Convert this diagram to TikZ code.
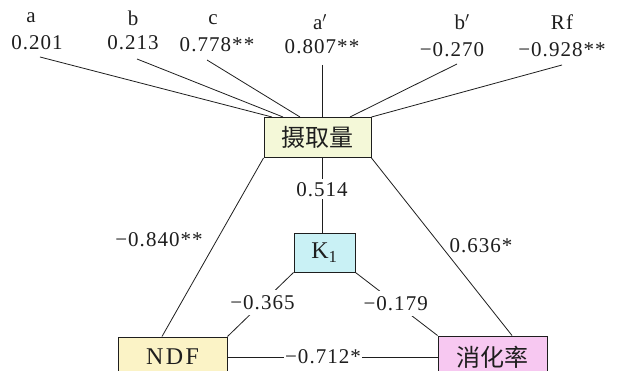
\documentclass[tikz,border=0pt]{standalone}
\usepackage{fontspec}
\setmainfont{Liberation Serif}[LetterSpace=5]
\newfontfamily\cjk{Noto Sans CJK SC}
\usetikzlibrary{calc}
\definecolor{intakec}{HTML}{F4F8D8}
\definecolor{kc}{HTML}{C9F1F5}
\definecolor{ndfc}{HTML}{FBF3C6}
\definecolor{digc}{HTML}{F7C8F1}
\definecolor{ink}{HTML}{1E1E1E}
\begin{document}
\begin{tikzpicture}[x=1pt,y=-1pt,
  box/.style={draw=ink, line width=1pt, inner sep=0pt, text=ink},
  conn/.style={draw=ink, line width=0.8pt},
  lbl/.style={text=ink, font=\fontsize{21}{21}\selectfont, inner sep=1pt},
  onl/.style={lbl, fill=white, inner sep=3pt},
  cjkt/.style={font=\cjk\fontsize{24}{24}\selectfont}]
\useasboundingbox (0,0) rectangle (620,371);
\clip (0,0) rectangle (620,371);
\fill[white] (0,0) rectangle (620,371);

% boxes
\node[box, fill=intakec, minimum width=107pt, minimum height=40pt, cjkt] (intake) at (317.5,137.5) {摄取量};
\node[box, fill=kc, minimum width=61pt, minimum height=39pt, font=\fontsize{24}{24}\selectfont] (k1) at (324.5,252.5) {K\textsubscript{1}};
\node[box, fill=ndfc, minimum width=109pt, minimum height=40pt, font=\fontsize{24}{24}\selectfont\addfontfeatures{LetterSpace=10}] (ndf) at (172.5,357) {NDF};
\node[box, fill=digc, minimum width=109pt, minimum height=42pt, cjkt] (dig) at (492.5,357) {消化率};

% top labels
\node[lbl] (na) at (31,18) {a};
\node[lbl] (va) at (37,43) {0.201};
\node[lbl] (nb) at (133,18) {b};
\node[lbl] (vb) at (133,43) {0.213};
\node[lbl] (nc) at (213,20) {c};
\node[lbl] (vc) at (217,45) {0.778**};
\node[lbl] (nap) at (320,22) {a$'$};
\node[lbl] (vap) at (322,47) {0.807**};
\node[lbl] (nbp) at (462,22) {b$'$};
\node[lbl] (vbp) at (452,50) {−0.270};
\node[lbl] (nrf) at (562,22) {Rf};
\node[lbl] (vrf) at (562,50) {−0.928**};

% free ends of top connectors
\coordinate (ea) at (40,57);
\coordinate (eb) at (137,59);
\coordinate (ec) at (207,60);
\coordinate (eap) at (322,65);
\coordinate (ebp) at (457,64);
\coordinate (erf) at (562,65);

\draw[conn] (ea) -- ([xshift=-45.5pt]intake.north);
\draw[conn] (eb) -- ([xshift=-34.5pt]intake.north);
\draw[conn] (ec) -- ([xshift=-17.5pt]intake.north);
\draw[conn] (eap) -- ([xshift=4.5pt]intake.north);
\draw[conn] (ebp) -- ([xshift=32.5pt]intake.north);
\draw[conn] (erf) -- (intake.north east);

% middle connectors
\draw[conn] (intake.south west) -- ([xshift=-10.5pt]ndf.north);
\draw[conn] (intake.south east) -- ([xshift=19.5pt]dig.north);
\node[lbl] (l840) at (159,240) {−0.840**};
\node[lbl] (l636) at (481,246) {0.636*};

\draw[conn] ([xshift=-2.5pt]k1.north |- intake.south) -- node[onl, pos=0.42] (l514) {0.514} ([xshift=-2.5pt]k1.north);
\draw[conn] (k1.south west) -- node[onl, pos=0.47, inner xsep=1pt, inner ysep=5pt] (l365) {−0.365} (ndf.north east);
\draw[conn] (k1.south east) -- node[onl, pos=0.49, inner xsep=1pt, inner ysep=5pt] (l179) {−0.179} (dig.north west);
\draw[conn] (ndf.east) -- node[onl, pos=0.455, inner sep=1pt] (l712) {−0.712*} (dig.west);
\end{tikzpicture}
\end{document}
